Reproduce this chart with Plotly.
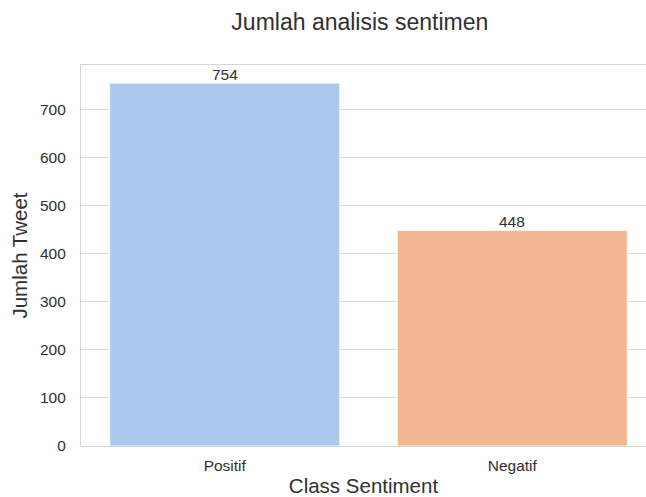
import plotly.graph_objects as go

categories = ["Positif", "Negatif"]
counts = [754, 448]
colors = ["#abc9ee", "#f0b792"]
y_ticks = [0, 100, 200, 300, 400, 500, 600, 700]

font_family = "Liberation Sans, Arial, sans-serif"
text_color = "#303030"

fig = go.Figure()
fig.add_trace(go.Bar(
    x=[0, 1],
    y=counts,
    width=0.8,
    marker=dict(color=colors, line=dict(color="#ffffff", width=0.8)),
    showlegend=False,
    hoverinfo="skip",
))

for i, v in enumerate(counts):
    fig.add_annotation(x=i, y=v, text=str(v), showarrow=False, yanchor="bottom",
                       yshift=-2, font=dict(size=15.5, color=text_color, family=font_family))

fig.update_layout(
    width=646, height=497,
    margin=dict(l=81, r=0, t=65, b=51),
    paper_bgcolor="white", plot_bgcolor="white",
    font=dict(family=font_family, color=text_color, size=15.5),
    title=dict(text="Jumlah analisis sentimen", xref="container", x=0.557, xanchor="center",
               yref="container", y=0.956, yanchor="middle",
               font=dict(size=23, color=text_color, family=font_family)),
    bargap=0.2,
)
fig.update_xaxes(
    range=[-0.5, 1.465],
    tickmode="array", tickvals=[0, 1], ticktext=categories,
    showgrid=False, zeroline=False,
    showline=True, linecolor="#d6d6d6", linewidth=1.2, mirror=True,
    ticks="outside", ticklen=5, tickcolor="rgba(0,0,0,0)",
    tickfont=dict(size=15.5),
    title=dict(text="Class Sentiment", font=dict(size=20.5), standoff=6),
    automargin=False,
)
fig.update_yaxes(
    range=[0, 754 * 1.05],
    tickmode="array", tickvals=y_ticks,
    showgrid=True, gridcolor="#dcdcdc", gridwidth=1,
    zeroline=False,
    showline=True, linecolor="#d6d6d6", linewidth=1.2, mirror=False,
    ticks="outside", ticklen=11, tickcolor="rgba(0,0,0,0)",
    tickfont=dict(size=15.5),
    title=dict(text="Jumlah Tweet", font=dict(size=20.5), standoff=6),
    automargin=False,
)

fig.write_html(
    "out.html",
    config={"displayModeBar": False},
    post_script="document.body.style.margin='0';document.body.style.overflow='hidden';",
)
